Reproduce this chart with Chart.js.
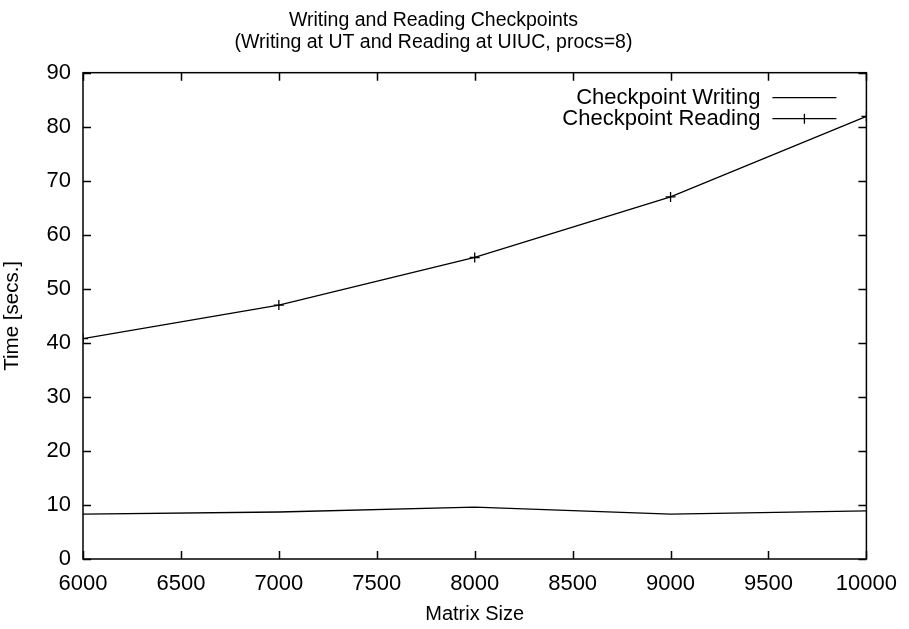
<!DOCTYPE html>
<html>
<head>
<meta charset="utf-8">
<script src="https://cdn.jsdelivr.net/npm/chart.js@4/dist/chart.umd.min.js"></script>
<style>
  html, body { margin: 0; padding: 0; background: #fff; }
  #wrap { width: 909px; height: 629px; }
</style>
</head>
<body>
<div id="wrap"><canvas id="myChart" width="909" height="629"></canvas></div>
<script>
// matrix sizes (x)
var matrixSizes = [6000, 7000, 8000, 9000, 10000]
// series values, secs
var writingTimes = [8.3, 8.7, 9.6, 8.3, 8.9]
var readingTimes = [40.8, 47.0, 55.8, 67.0, 81.9]
// tick labels
var xTickValues = [6000, 6500, 7000, 7500, 8000, 8500, 9000, 9500, 10000]
var yTickValues = [0, 10, 20, 30, 40, 50, 60, 70, 80, 90]
var seriesNames = ['Checkpoint Writing', 'Checkpoint Reading']

var fontFamily = '"Liberation Sans", Arial, Helvetica, sans-serif'

function toPoints (xs, ys) {
  var pts = []
  for (var i = 0; i < xs.length; i++) pts.push({ x: xs[i], y: ys[i] })
  return pts
}

// gnuplot style box with inward ticks on every side
var frameTicks = {
  id: 'frameTicks',
  afterDraw: function (chart) {
    var c = chart.ctx
    var a = chart.chartArea
    var xs = chart.scales.x
    var ys = chart.scales.y
    var len = 8
    c.save()
    c.strokeStyle = '#000'
    c.lineWidth = 1.5
    c.strokeRect(a.left, a.top, a.right - a.left, a.bottom - a.top)
    c.beginPath()
    xs.ticks.forEach(function (t) {
      var px = Math.round(xs.getPixelForValue(t.value)) + 0.5
      c.moveTo(px, a.bottom); c.lineTo(px, a.bottom - len)
      c.moveTo(px, a.top); c.lineTo(px, a.top + len)
    })
    ys.ticks.forEach(function (t) {
      var py = Math.round(ys.getPixelForValue(t.value)) + 0.5
      c.moveTo(a.left, py); c.lineTo(a.left + len, py)
      c.moveTo(a.right, py); c.lineTo(a.right - len, py)
    })
    c.stroke()
    c.restore()
  }
}

// legend with right aligned text and sample line on the right
var keyBox = {
  id: 'keyBox',
  afterDraw: function (chart) {
    var c = chart.ctx
    var a = chart.chartArea
    var textRight = a.right - 106
    var lineL = a.right - 94
    var lineR = a.right - 30
    c.save()
    c.font = '22px ' + fontFamily
    c.textAlign = 'right'
    c.textBaseline = 'middle'
    c.fillStyle = '#000'
    c.strokeStyle = '#000'
    c.lineWidth = 1.3
    chart.data.datasets.forEach(function (ds, i) {
      var y = a.top + 25 + i * 21
      c.fillText(ds.label, textRight, y)
      c.beginPath()
      c.moveTo(lineL, y); c.lineTo(lineR, y)
      if (ds.pointRadius > 0) {
        var mx = (lineL + lineR) / 2
        c.moveTo(mx, y - 5); c.lineTo(mx, y + 5)
      }
      c.stroke()
    })
    c.restore()
  }
}

var ctx = document.getElementById('myChart')
var myChart = new Chart(ctx, {
  type: 'line',
  data: {
    datasets: [{
      label: seriesNames[0],
      data: toPoints(matrixSizes, writingTimes),
      borderColor: '#000',
      borderWidth: 1.3,
      pointRadius: 0,
      tension: 0
    }, {
      label: seriesNames[1],
      data: toPoints(matrixSizes, readingTimes),
      borderColor: '#000',
      borderWidth: 1.3,
      pointStyle: 'cross',
      pointRadius: 5,
      pointBorderWidth: 1.3,
      pointBorderColor: '#000',
      tension: 0
    }]
  },
  options: {
    responsive: false,
    animation: false,
    layout: { padding: { top: 10, right: 42, left: 0, bottom: 3 } },
    plugins: {
      legend: { display: false },
      tooltip: { enabled: false },
      title: {
        display: true,
        text: ['Writing and Reading Checkpoints', '(Writing at UT and Reading at UIUC, procs=8)'],
        color: '#000',
        font: { family: fontFamily, size: 19.5, weight: 'normal', lineHeight: 1.12 },
        padding: { top: 0, bottom: 19 }
      }
    },
    scales: {
      x: {
        type: 'linear',
        min: 6000,
        max: 10000,
        afterBuildTicks: function (scale) {
          scale.ticks = xTickValues.map(function (v) { return { value: v } })
        },
        afterFit: function (scale) { scale.height = 67 },
        grid: { display: false, drawTicks: false },
        border: { display: false },
        ticks: {
          color: '#000',
          padding: 12,
          maxRotation: 0,
          font: { family: fontFamily, size: 22 },
          callback: function (v) { return String(v) }
        },
        title: {
          display: true,
          text: 'Matrix Size',
          color: '#000',
          font: { family: fontFamily, size: 20 },
          padding: { top: 2, bottom: 0 }
        }
      },
      y: {
        min: 0,
        max: 90,
        afterBuildTicks: function (scale) {
          scale.ticks = yTickValues.map(function (v) { return { value: v } })
        },
        afterFit: function (scale) { scale.width = 83 },
        grid: { display: false, drawTicks: false },
        border: { display: false },
        ticks: {
          color: '#000',
          padding: 12,
          font: { family: fontFamily, size: 22 },
          callback: function (v) { return String(v) }
        },
        title: {
          display: true,
          text: 'Time [secs.]',
          color: '#000',
          font: { family: fontFamily, size: 20.5 },
          padding: { top: 0, bottom: 0 }
        }
      }
    }
  },
  plugins: [frameTicks, keyBox]
})
</script>
</body>
</html>
